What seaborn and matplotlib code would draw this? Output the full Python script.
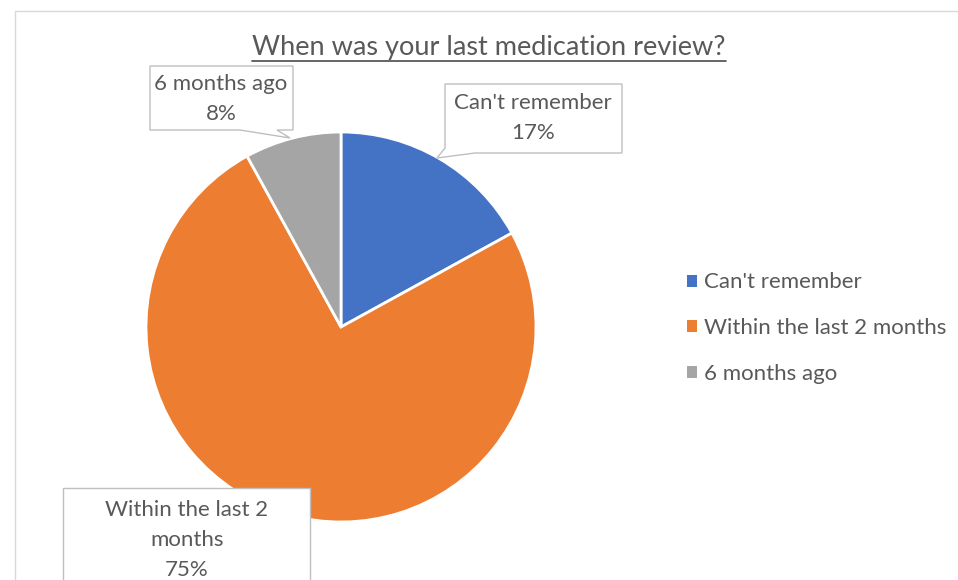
"""Pie chart of when respondents last had a medication review."""
import matplotlib
matplotlib.use('Agg')
import matplotlib.pyplot as plt
from matplotlib.patches import Patch, Polygon, Rectangle
from matplotlib.transforms import Affine2D
import seaborn as sns

categories = ["Can't remember", 'Within the last 2 months', '6 months ago']
shares = [17, 75, 8]
box_labels = ["Can't remember\n17%", 'Within the last 2\nmonths\n75%', '6 months ago\n8%']
colors = ['#4472C4', '#ED7D31', '#A5A5A5']

sns.set_theme(style='white')
plt.rcParams['font.family'] = ['Lato', 'DejaVu Sans']
TEXT = '#595959'
EDGE = '#BFBFBF'

W, H = 958, 580
fig = plt.figure(figsize=(W / 100, H / 100), dpi=100)
# pixel coordinates measured from the top-left corner
px = Affine2D().scale(1 / 100, -1 / 100).translate(0, H / 100) + fig.dpi_scale_trans

# chart border
fig.patches.append(Rectangle((14.5, 10.5), 960, 600, transform=px, fill=False,
                             ec='#D9D9D9', lw=1, zorder=0))

# pie: centre (341, 327), radius 195 px
cx, cy, r = 341, 327, 195
ax = fig.add_axes([(cx - r) / W, (H - cy - r) / H, 2 * r / W, 2 * r / H])
wedges, _ = ax.pie(shares, colors=colors, startangle=90, counterclock=False,
                   wedgeprops=dict(edgecolor='white', linewidth=2))
ax.set_xlim(-1, 1)
ax.set_ylim(-1, 1)
ax.axis('off')

# title with underline
title = fig.text(489, 47, 'When was your last medication review?', transform=px,
                 ha='center', va='center', fontsize=19.5, color=TEXT)
fig.canvas.draw()
bb = title.get_window_extent()
fig.lines.append(plt.Line2D([bb.x0, bb.x1], [bb.y0 - 1, bb.y0 - 1],
                            transform=None, color=TEXT, lw=1.3))


def callout(points, center, text):
    fig.patches.append(Polygon(points, closed=True, transform=px, fc='white',
                               ec=EDGE, lw=1, zorder=5))
    fig.text(center[0], center[1], text, transform=px, ha='center', va='center',
             fontsize=16, color=TEXT, linespacing=1.6, zorder=6)


callout([(445, 84), (622, 84), (622, 153), (475, 153), (437, 158), (445, 148)],
        (533, 118), box_labels[0])
callout([(150, 66), (293, 66), (293, 130), (277, 130), (290, 138), (240, 130), (150, 130)],
        (221, 99), box_labels[2])
callout([(63, 488), (310, 488), (310, 620), (63, 620)], (187, 540), box_labels[1])

handles = [Patch(facecolor=c, edgecolor='none') for c in colors]
fig.legend(handles, categories, loc='center left', bbox_to_anchor=(667, 328),
           bbox_transform=px, frameon=False, fontsize=16, labelcolor=TEXT,
           handlelength=0.45, handleheight=0.45, handletextpad=0.3, labelspacing=1.15)

fig.savefig('out.png', dpi=100)
